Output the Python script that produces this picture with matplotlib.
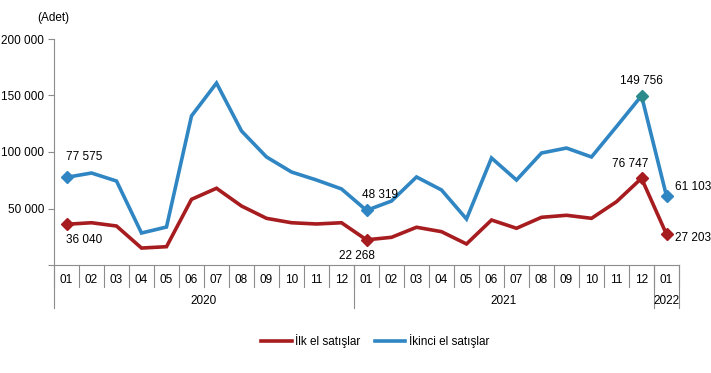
import matplotlib
matplotlib.use("Agg")
import matplotlib.pyplot as plt
from matplotlib.lines import Line2D
import matplotlib.transforms as mtrans

months = ["01","02","03","04","05","06","07","08","09","10","11","12",
          "01","02","03","04","05","06","07","08","09","10","11","12","01"]
years = ["2020", "2021", "2022"]
year_counts = [12, 12, 1]

ilk_el = [36040, 37400, 34500, 15000, 16200, 58100, 67900, 52200, 41300, 37400, 36300, 37400,
          22268, 24500, 33400, 29500, 18600, 39800, 32500, 42200, 44000, 41300, 56000, 76747,
          27203]
ikinci_el = [77575, 81400, 74300, 28300, 33600, 131900, 161000, 118600, 95600, 82300, 75200, 67300,
             48319, 56600, 77900, 66400, 40700, 94700, 75200, 99100, 103500, 95600, 122500, 149756,
             61103]

labels_ilk = {0: "36 040", 12: "22 268", 23: "76 747", 24: "27 203"}
labels_ikinci = {0: "77 575", 12: "48 319", 23: "149 756", 24: "61 103"}

RED = "#A61C1F"
BLUE = "#2F86C3"
TEAL = "#2A8A8C"
GRAY = "#8C8C8C"

plt.rcParams['font.family'] = ['Liberation Sans', 'DejaVu Sans']

fig = plt.figure(figsize=(7.11, 3.73), dpi=100)
ax = fig.add_axes([54/711, 1-265/373, (679-54)/711, (265-39)/373])

x = list(range(len(months)))
ax.plot(x, ilk_el, color=RED, lw=2.6, solid_joinstyle='miter', zorder=3)
ax.plot(x, ikinci_el, color=BLUE, lw=2.6, solid_joinstyle='miter', zorder=3)

for i in labels_ilk:
    ax.plot(x[i], ilk_el[i], marker='D', ms=6, color=RED, zorder=4)
for i in labels_ikinci:
    c = TEAL if i == 23 else BLUE
    ax.plot(x[i], ikinci_el[i], marker='D', ms=6, color=c, zorder=4)

fs = 8.5
# data labels
ax.annotate(labels_ikinci[0], (x[0], ikinci_el[0]), xytext=(0, 10), textcoords='offset points',
            ha='left', va='bottom', fontsize=fs)
ax.annotate(labels_ilk[0], (x[0], ilk_el[0]), xytext=(0, -7), textcoords='offset points',
            ha='left', va='top', fontsize=fs)
ax.annotate(labels_ilk[12], (x[12], ilk_el[12]), xytext=(6, -7), textcoords='offset points',
            ha='right', va='top', fontsize=fs)
ax.annotate(labels_ikinci[12], (x[12], ikinci_el[12]), xytext=(-3, 7), textcoords='offset points',
            ha='left', va='bottom', fontsize=fs)
ax.annotate(labels_ikinci[23], (x[23], ikinci_el[23]), xytext=(0, 6), textcoords='offset points',
            ha='center', va='bottom', fontsize=fs)
ax.annotate(labels_ilk[23], (x[23], ilk_el[23]), xytext=(-8, 6), textcoords='offset points',
            ha='center', va='bottom', fontsize=fs)
ax.annotate(labels_ikinci[24], (x[24], ikinci_el[24]), xytext=(6, 2), textcoords='offset points',
            ha='left', va='bottom', fontsize=fs)
ax.annotate(labels_ilk[24], (x[24], ilk_el[24]), xytext=(6, -3), textcoords='offset points',
            ha='left', va='center', fontsize=fs)

ax.set_xlim(-0.5, len(months) - 0.5)
ax.set_ylim(0, 200000)
ax.set_yticks([0, 50000, 100000, 150000, 200000])
ax.set_yticklabels(["", "50 000", "100 000", "150 000", "200 000"], fontsize=fs)
ax.tick_params(axis='y', length=4, color=GRAY, width=0.8, pad=3)
ax.set_xticks([])
for s in ['top', 'right']:
    ax.spines[s].set_visible(False)
for s in ['left', 'bottom']:
    ax.spines[s].set_color(GRAY)
    ax.spines[s].set_linewidth(0.8)

trans = mtrans.blended_transform_factory(ax.transData, ax.transAxes)
month_y = -15/226
year_y = -36/226
msep = -22/226
ysep = -43/226

for i, m in enumerate(months):
    ax.text(i, month_y, m, transform=trans, ha='center', va='center', fontsize=fs)
# month separators
for i in range(len(months) + 1):
    ax.add_line(Line2D([i - 0.5, i - 0.5], [0, msep], transform=trans, color=GRAY, lw=0.8, clip_on=False))
# year separators + labels
start = 0
for y, c in zip(years, year_counts):
    ax.add_line(Line2D([start - 0.5, start - 0.5], [0, ysep], transform=trans, color=GRAY, lw=0.8, clip_on=False))
    ax.text(start + (c - 1) / 2, year_y, y, transform=trans, ha='center', va='center', fontsize=fs)
    start += c
ax.add_line(Line2D([start - 0.5, start - 0.5], [0, ysep], transform=trans, color=GRAY, lw=0.8, clip_on=False))

fig.text(37/711, 1-18/373, "(Adet)", ha='left', va='center', fontsize=fs)

handles = [Line2D([], [], color=RED, lw=2.6), Line2D([], [], color=BLUE, lw=2.6)]
fig.legend(handles, ["İlk el satışlar", "İkinci el satışlar"], loc='center',
           bbox_to_anchor=(375/711, 1-341/373), ncol=2, frameon=False, fontsize=fs,
           handlelength=2.6, handletextpad=0.3, columnspacing=1.2)

fig.savefig("out.png", dpi=100)
